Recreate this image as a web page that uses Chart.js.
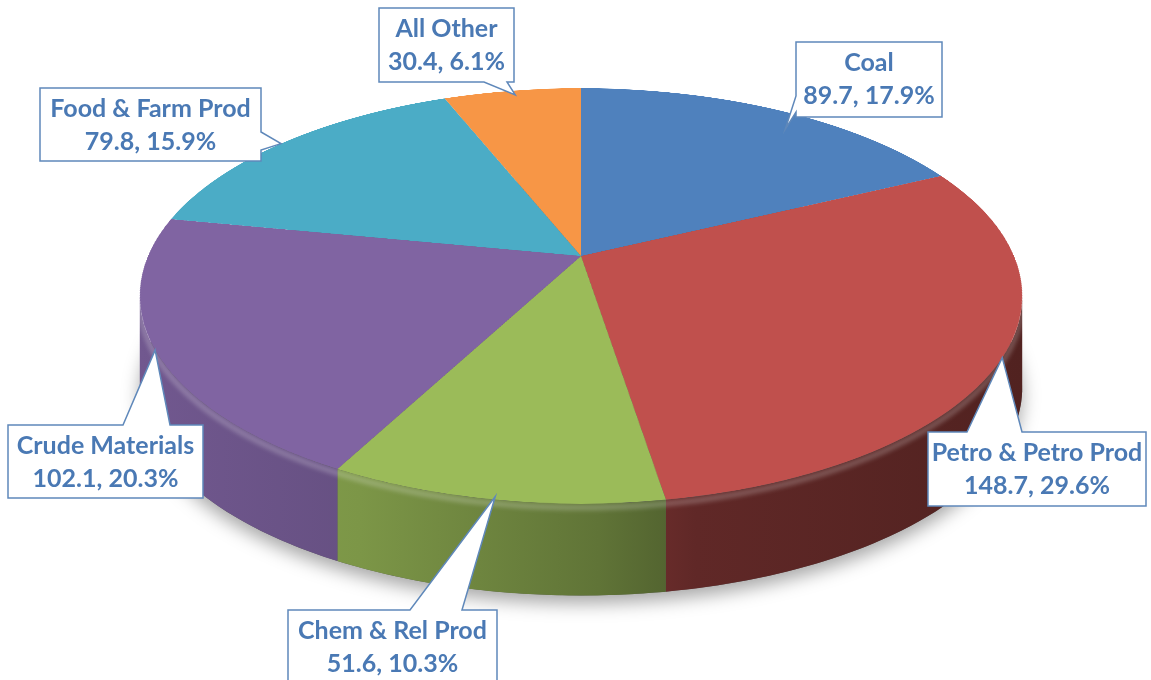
<!DOCTYPE html>
<html>
<head>
<meta charset="utf-8">
<script src="https://cdn.jsdelivr.net/npm/chart.js@4.4.1/dist/chart.umd.min.js"></script>
<style>
  html, body { margin: 0; padding: 0; background: #fff; }
  #wrap { width: 1151px; height: 680px; }
</style>
</head>
<body>
<div id="wrap"><canvas id="pie-chart"></canvas></div>
<script>
const categories = ["Coal", "Petro & Petro Prod", "Chem & Rel Prod", "Crude Materials", "Food & Farm Prod", "All Other"];
const tonnage = [89.7, 148.7, 51.6, 102.1, 79.8, 30.4];
const sliceColors = ["#4f81bd", "#c0504d", "#9bbb59", "#8064a2", "#4bacc6", "#f79646"];

// tilted disc seen in perspective: centre of the pie lands at (cx, y0),
// a point at depth v (-1 back .. 1 front) is scaled by 1 / (1 - k * v)
const disc = { cx: 581, y0: 256, rx: 433, ry: 200, k: 0.192, depth: 92 };

// rim darkens from left to right: [position across the disc, brightness]
const rimLight = [[0, 0.88], [0.25, 0.8], [0.52, 0.62], [0.63, 0.5], [1, 0.42]];

// label boxes [x, y, w, h]; pointer leaves from `side` between `base` offsets,
// and ends at fraction t of the slice sweep, r of the radius
const callouts = [
    { box: [796, 42, 146, 75], side: "left", base: [54, 70], t: 0.57, r: 0.9 },
    { box: [928, 432, 218, 74], side: "top", base: [39, 94], t: 0.5, r: 1 },
    { box: [288, 610, 209, 78], side: "top", base: [122, 174], t: 0.5, r: 0.99 },
    { box: [8, 425, 195, 73], side: "top", base: [115, 162], t: 0.5, r: 1 },
    { box: [40, 88, 221, 73], side: "right", base: [44, 62], t: 0.49, r: 1 },
    { box: [379, 8, 135, 74], side: "bottom", base: [105, 128], t: 0.51, r: 0.97 }
];

const total = tonnage.reduce((s, v) => s + v, 0);

function shade(hex, f) {
    const n = parseInt(hex.slice(1), 16);
    const r = Math.round(((n >> 16) & 255) * f);
    const g = Math.round(((n >> 8) & 255) * f);
    const b = Math.round((n & 255) * f);
    return "rgb(" + r + "," + g + "," + b + ")";
}

function project(u, v) {
    const s = 1 / (1 - disc.k * v);
    return [disc.cx + disc.rx * u * s, disc.y0 + disc.ry * v * s];
}

function rowToV(y) {
    const d = y - disc.y0;
    return d / (disc.ry + disc.k * d);
}

function rimPoint(th) {
    return project(Math.cos(th), Math.sin(th));
}

function tracePart(ctx, a0, a1, dy, reverse, n) {
    for (let j = 0; j <= n; j++) {
        const f = reverse ? 1 - j / n : j / n;
        const p = rimPoint(a0 + (a1 - a0) * f);
        ctx.lineTo(p[0], p[1] + dy);
    }
}

function drawRim(ctx, arcs) {
    const D = disc.depth;
    const visA = Math.asin(disc.k), visB = Math.PI - visA;

    // soft shadow under the disc
    ctx.save();
    ctx.beginPath();
    tracePart(ctx, 0, Math.PI * 2, D, false, 120);
    ctx.closePath();
    ctx.shadowColor = "rgba(0,0,0,0.35)";
    ctx.shadowBlur = 18;
    ctx.shadowOffsetY = 8;
    ctx.fillStyle = "#555";
    ctx.fill();
    ctx.restore();

    // front wall of each slice, between the two silhouette points
    const left = disc.cx - disc.rx * 1.02, right = disc.cx + disc.rx * 1.02;
    arcs.forEach((el, i) => {
        const a0 = Math.max(el.startAngle, visA);
        const a1 = Math.min(el.endAngle, visB);
        if (a1 <= a0) return;
        const grad = ctx.createLinearGradient(left, 0, right, 0);
        rimLight.forEach(([p, f]) => grad.addColorStop(p, shade(sliceColors[i], f)));
        ctx.beginPath();
        tracePart(ctx, a0, a1, 0, false, 60);
        tracePart(ctx, a0, a1, D, true, 60);
        ctx.closePath();
        ctx.fillStyle = grad;
        ctx.fill();
    });

    // light bevel along the top of the wall
    ctx.save();
    ctx.filter = "blur(2px)";
    ctx.beginPath();
    const p0 = rimPoint(visA);
    ctx.moveTo(p0[0], p0[1] + 4);
    tracePart(ctx, visA, visB, 4, false, 100);
    ctx.strokeStyle = "rgba(255,255,255,0.22)";
    ctx.lineWidth = 6;
    ctx.stroke();
    ctx.restore();
}

// the pie's arcs are drawn round on a scratch canvas, then laid down
// row by row with the perspective of the disc
function drawTopFace(ctx, arcs) {
    const a = arcs[0];
    const R = a.outerRadius;
    const q = 2;
    const off = document.createElement("canvas");
    off.width = Math.ceil((a.x + R + 4) * q);
    off.height = Math.ceil((a.y + R + 4) * q);
    const octx = off.getContext("2d");
    octx.scale(q, q);
    arcs.forEach(el => el.draw(octx));

    const yTop = Math.floor(project(0, -1)[1]);
    const yBot = Math.ceil(project(0, 1)[1]);
    for (let y = yTop; y < yBot; y++) {
        const v1 = Math.max(-1, rowToV(y));
        const v2 = Math.min(1, rowToV(y + 1));
        if (v2 <= v1) continue;
        const s = 1 / (1 - disc.k * (v1 + v2) / 2);
        ctx.drawImage(off,
            (a.x - R) * q, (a.y + v1 * R) * q, 2 * R * q, (v2 - v1) * R * q,
            disc.cx - disc.rx * s, y, 2 * disc.rx * s, 1);
    }
}

function bubblePath(ctx, c, tx, ty) {
    const [x, y, w, h] = c.box;
    const [b0, b1] = c.base;
    ctx.beginPath();
    ctx.moveTo(x, y);
    if (c.side === "top") { ctx.lineTo(x + b0, y); ctx.lineTo(tx, ty); ctx.lineTo(x + b1, y); }
    ctx.lineTo(x + w, y);
    if (c.side === "right") { ctx.lineTo(x + w, y + b0); ctx.lineTo(tx, ty); ctx.lineTo(x + w, y + b1); }
    ctx.lineTo(x + w, y + h);
    if (c.side === "bottom") { ctx.lineTo(x + b1, y + h); ctx.lineTo(tx, ty); ctx.lineTo(x + b0, y + h); }
    ctx.lineTo(x, y + h);
    if (c.side === "left") { ctx.lineTo(x, y + b1); ctx.lineTo(tx, ty); ctx.lineTo(x, y + b0); }
    ctx.closePath();
}

function drawCallouts(ctx, arcs) {
    ctx.save();
    callouts.forEach((c, i) => {
        const el = arcs[i];
        const ang = el.startAngle + c.t * (el.endAngle - el.startAngle);
        const [tx, ty] = project(c.r * Math.cos(ang), c.r * Math.sin(ang));
        bubblePath(ctx, c, tx, ty);
        ctx.fillStyle = "#ffffff";
        ctx.fill();
        ctx.strokeStyle = "#5f88ba";
        ctx.lineWidth = 1.5;
        ctx.stroke();

        const [x, y, w] = c.box;
        const pct = (tonnage[i] / total * 100).toFixed(1);
        ctx.fillStyle = "#4a79b4";
        ctx.font = "bold 25px Lato";
        ctx.textAlign = "center";
        ctx.textBaseline = "middle";
        ctx.fillText(categories[i], x + w / 2, y + 21);
        ctx.fillText(tonnage[i].toFixed(1) + ", " + pct + "%", x + w / 2, y + 54);
    });
    ctx.restore();
}

const tiltPlugin = {
    id: "tilt",
    beforeDatasetsDraw(chart) {
        const arcs = chart.getDatasetMeta(0).data;
        drawRim(chart.ctx, arcs);
        drawTopFace(chart.ctx, arcs);
        return false;
    },
    afterDraw(chart) {
        drawCallouts(chart.ctx, chart.getDatasetMeta(0).data);
    }
};

var chart = new Chart(document.getElementById("pie-chart"), {
    type: "pie",
    data: {
        labels: categories,
        datasets: [{
            data: tonnage,
            backgroundColor: sliceColors,
            borderWidth: 0
        }]
    },
    options: {
        responsive: true,
        maintainAspectRatio: false,
        animation: false,
        events: [],
        plugins: {
            legend: { display: false },
            tooltip: { enabled: false }
        }
    },
    plugins: [tiltPlugin]
});
</script>
</body>
</html>
